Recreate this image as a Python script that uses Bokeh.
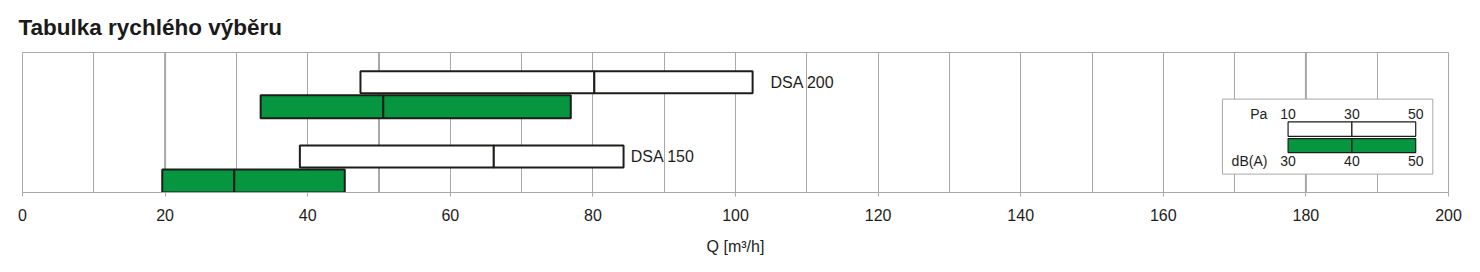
from bokeh.plotting import figure
from bokeh.models import Range1d, SingleIntervalTicker, Span
from bokeh.core.properties import value
from bokeh.embed import file_html
from bokeh.resources import INLINE

# ---- data ----
models = ["DSA 150", "DSA 200"]
pa_start = [38.9, 47.4]     # Q at 10 Pa
pa_mid = [66.1, 80.2]       # Q at 30 Pa
pa_end = [84.3, 102.4]      # Q at 50 Pa
db_start = [19.6, 33.4]     # Q at 30 dB(A)
db_mid = [29.7, 50.6]       # Q at 40 dB(A)
db_end = [45.2, 76.9]       # Q at 50 dB(A)
x_ticks = list(range(0, 201, 20))
legend_pa = [10, 30, 50]
legend_db = [30, 40, 50]
title_text = "Tabulka rychlého výběru"
x_label = "Q [m³/h]"

# ---- style ----
FONT = "Liberation Sans"
GREEN = "#05963f"
EDGE = "#1d1d1b"
GRID = "#a8a8a8"
TXT = "#1d1d1b"

p = figure(width=1480, height=272, output_backend="svg", toolbar_location=None,
           x_range=Range1d(0, 200), y_range=Range1d(0, 5.71),
           y_axis_location=None,
           min_border_left=22, min_border_right=32,
           min_border_top=52, min_border_bottom=80)
p.background_fill_color = "white"
p.border_fill_color = "white"
p.outline_line_color = GRID
p.outline_line_width = 1

p.title.text = title_text
p.title.text_font = FONT
p.title.text_font_size = "22.5px"
p.title.text_font_style = "bold"
p.title.text_color = "#1a1a1a"
p.title.align = "left"
p.title.offset = -4
p.title.standoff = 25

ax = p.xaxis[0]
ax.ticker = SingleIntervalTicker(interval=20)
ax.axis_line_color = GRID
ax.major_tick_line_color = GRID
ax.major_tick_out = 4
ax.major_tick_in = 0
ax.minor_tick_line_color = None
ax.major_label_text_font = FONT
ax.major_label_text_font_size = "16px"
ax.major_label_text_color = TXT
ax.major_label_standoff = 12
ax.axis_label = x_label
ax.axis_label_text_font = FONT
ax.axis_label_text_font_size = "16px"
ax.axis_label_text_font_style = "normal"
ax.axis_label_text_color = TXT
ax.axis_label_standoff = 14

p.xgrid.ticker = SingleIntervalTicker(interval=10)
p.xgrid.grid_line_color = GRID
p.xgrid.grid_line_width = 1
p.ygrid.visible = False

# slightly heavier grid lines seen in the reference
for gx in [20, 50, 180]:
    p.add_layout(Span(location=gx, dimension="height", line_color=GRID,
                      line_width=2, level="underlay"))

# ---- bars ----
GROUP = 3.03
for i, m in enumerate(models):
    base = i * GROUP
    # dB(A) bar (green), lower
    p.quad(left=[db_start[i], db_mid[i]], right=[db_mid[i], db_end[i]],
           bottom=base, top=base + 0.94,
           fill_color=GREEN, line_color=EDGE, line_width=2)
    # Pa bar (white), upper
    p.quad(left=[pa_start[i], pa_mid[i]], right=[pa_mid[i], pa_end[i]],
           bottom=base + 1.02, top=base + 1.92,
           fill_color="white", line_color=EDGE, line_width=2)

label_gap = [1.0, 2.5]
p.text(x=[pa_end[i] + label_gap[i] for i in range(len(models))],
       y=[i * GROUP + 1.47 for i in range(len(models))],
       text=models, text_font=value(FONT), text_font_size="16px",
       text_color=TXT, text_align="left", text_baseline="middle")

# ---- legend box ----
p.quad(left=[168.3], right=[197.8], bottom=[0.75], top=[3.81],
       fill_color="white", line_color=GRID, line_width=1)
lx0, lx1 = 177.5, 195.4

def lpos(vals):
    return [lx0 + (v - vals[0]) / (vals[-1] - vals[0]) * (lx1 - lx0) for v in vals]

pa_x = lpos(legend_pa)
db_x = lpos(legend_db)
p.quad(left=pa_x[:-1], right=pa_x[1:], bottom=2.29, top=2.88,
       fill_color="white", line_color=EDGE, line_width=1.2)
p.quad(left=db_x[:-1], right=db_x[1:], bottom=1.63, top=2.20,
       fill_color=GREEN, line_color=EDGE, line_width=1.2)
p.text(x=pa_x, y=[3.22] * 3, text=[str(v) for v in legend_pa],
       text_font=value(FONT), text_font_size="14px", text_color=TXT,
       text_align="center", text_baseline="middle")
p.text(x=db_x, y=[1.29] * 3, text=[str(v) for v in legend_db],
       text_font=value(FONT), text_font_size="14px", text_color=TXT,
       text_align="center", text_baseline="middle")
p.text(x=[174.6, 174.6], y=[3.22, 1.29], text=["Pa", "dB(A)"],
       text_font=value(FONT), text_font_size="14px", text_color=TXT,
       text_align="right", text_baseline="middle")

open("out.html", "w").write(file_html(p, INLINE))
